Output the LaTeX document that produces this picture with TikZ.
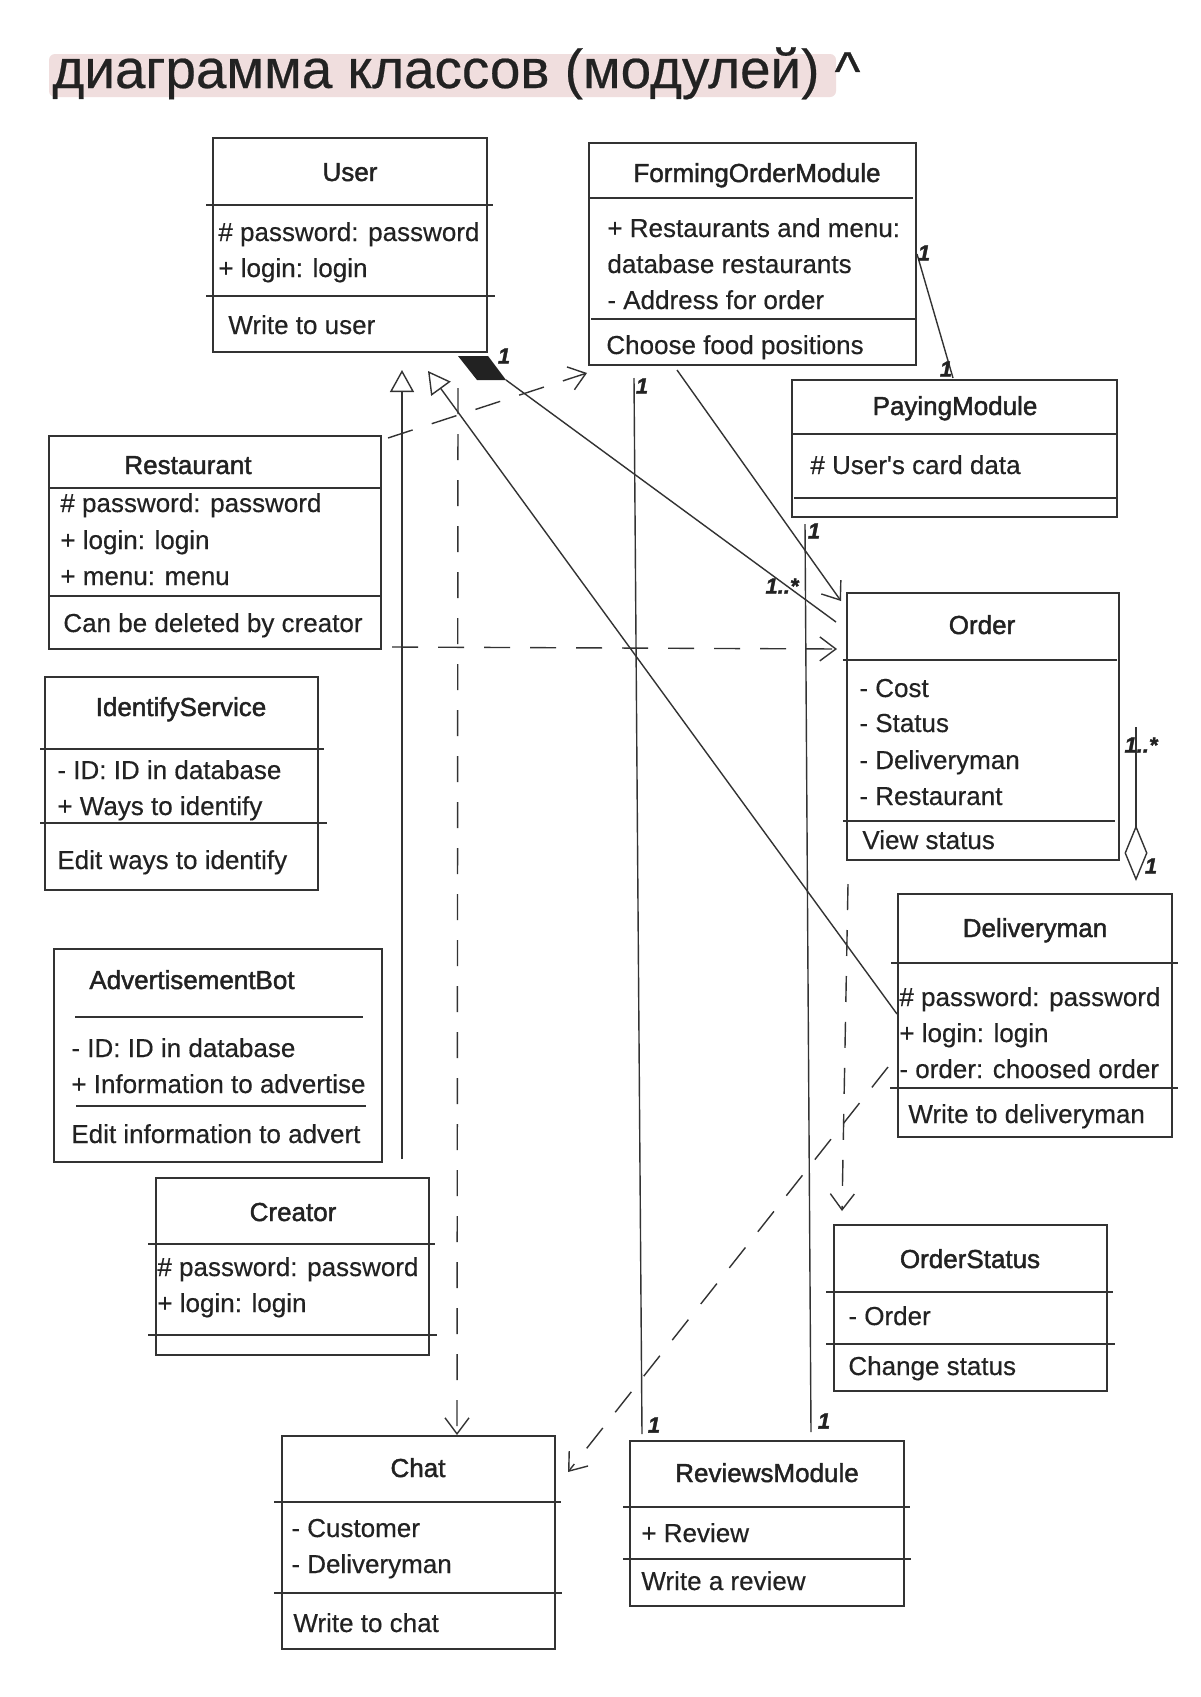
\documentclass[tikz,border=0pt]{standalone}
\usepackage{fontspec}
\setmainfont{Liberation Sans}[Ligatures=TeXOff, FakeBold=0.4]
\newfontfamily\clsfont[FakeBold=1.6]{Liberation Sans}
\newfontfamily\handfont[FakeBold=1.5]{Liberation Sans Bold Italic}
\usetikzlibrary{arrows.meta,calc,fit}
\definecolor{ink}{HTML}{333333}
\definecolor{txt}{HTML}{222222}
\definecolor{hl}{HTML}{F0DEDE}
\tikzset{
  box/.style={draw=ink, line width=1pt, inner sep=0pt},
  sep/.style={draw=ink, line width=1pt},
  ttl/.style={anchor=base, font=\clsfont\fontsize{13}{15}\selectfont, text=txt, inner sep=0pt},
  attr/.style={anchor=base west, font=\fontsize{13}{15}\selectfont, text=txt, inner sep=0pt},
  conn/.style={draw=ink, line width=0.7pt},
  dsh/.style={conn, dash pattern=on 13pt off 10pt},
  gen/.style={conn, -{Triangle[open,length=11pt,width=12pt]}},
  opn/.style={-{Straight Barb[length=8pt,width=12pt]}},
  agg/.style={conn, -{Diamond[open,length=28pt,width=11.5pt]}},
  mult/.style={font=\handfont\fontsize{11}{12}\selectfont, text=txt, inner sep=0pt},
}
\begin{document}
\begin{tikzpicture}[x=0.5pt,y=-0.5pt]
\useasboundingbox (0,0) rectangle (1200,1697);
\fill[white] (0,0) rectangle (1200,1697);

% heading with marker highlight
\fill[hl, rounded corners=3pt] (49,54) rectangle (836,97);
\node[anchor=base west, inner sep=0pt, text=txt, font=\fontsize{27.4}{30}\selectfont] (heading) at (52,88) {диаграмма классов (модулей) \raisebox{-1pt}{\^{}}};

% ---------- class boxes ----------
% User
\node[box, fit={(213,138) (487,352)}] (user) {};
\draw[sep] (206,205) -- (493,205);
\draw[sep] (206,296) -- (495,296);
\node[ttl] (user-t) at (350,181) {User};
\node[attr] (user-a1) at (218,241) {\# password: password};
\node[attr] (user-a2) at (218,277) {+ login: login};
\node[attr] (user-m1) at (228,334) {Write to user};

% FormingOrderModule
\node[box, fit={(589,143) (916,365)}] (fom) {};
\draw[sep] (589,198) -- (913,198);
\draw[sep] (591,319) -- (916,319);
\node[ttl] (fom-t) at (757,182) {FormingOrderModule};
\node[attr] (fom-a1) at (607,237) {+ Restaurants and menu:};
\node[attr] (fom-a2) at (607,273) {database restaurants};
\node[attr] (fom-a3) at (607,309) {- Address for order};
\node[attr] (fom-m1) at (606,354) {Choose food positions};

% PayingModule
\node[box, fit={(792,380) (1117,517)}] (pay) {};
\draw[sep] (792,434) -- (1117,434);
\draw[sep] (794,498) -- (1117,498);
\node[ttl] (pay-t) at (955,415) {PayingModule};
\node[attr] (pay-a1) at (810,474) {\# User's card data};

% Restaurant
\node[box, fit={(49,436) (381,649)}] (rest) {};
\draw[sep] (49,488) -- (381,488);
\draw[sep] (49,596) -- (381,596);
\node[ttl] (rest-t) at (188,474) {Restaurant};
\node[attr] (rest-a1) at (60,512) {\# password: password};
\node[attr] (rest-a2) at (60,549) {+ login: login};
\node[attr] (rest-a3) at (60,585) {+ menu: menu};
\node[attr] (rest-m1) at (63,632) {Can be deleted by creator};

% Order
\node[box, fit={(847,593) (1119,860)}] (order) {};
\draw[sep] (843,660) -- (1117,660);
\draw[sep] (843,821) -- (1115,821);
\node[ttl] (order-t) at (982,634) {Order};
\node[attr] (order-a1) at (859,697) {- Cost};
\node[attr] (order-a2) at (859,732) {- Status};
\node[attr] (order-a3) at (859,769) {- Deliveryman};
\node[attr] (order-a4) at (859,805) {- Restaurant};
\node[attr] (order-m1) at (862,849) {View status};

% IdentifyService
\node[box, fit={(45,677) (318,890)}] (ident) {};
\draw[sep] (40,749) -- (324,749);
\draw[sep] (40,823) -- (327,823);
\node[ttl] (ident-t) at (181,716) {IdentifyService};
\node[attr] (ident-a1) at (57,779) {- ID: ID in database};
\node[attr] (ident-a2) at (57,815) {+ Ways to identify};
\node[attr] (ident-m1) at (57,869) {Edit ways to identify};

% Deliveryman
\node[box, fit={(898,894) (1172,1137)}] (deliv) {};
\draw[sep] (891,963) -- (1178,963);
\draw[sep] (890,1088) -- (1178,1088);
\node[ttl] (deliv-t) at (1035,937) {Deliveryman};
\node[attr] (deliv-a1) at (899,1006) {\# password: password};
\node[attr] (deliv-a2) at (899,1042) {+ login: login};
\node[attr] (deliv-a3) at (899,1078) {- order: choosed order};
\node[attr] (deliv-m1) at (908,1123) {Write to deliveryman};

% AdvertisementBot
\node[box, fit={(54,949) (382,1162)}] (adv) {};
\draw[sep] (75,1017) -- (363,1017);
\draw[sep] (76,1106) -- (366,1106);
\node[ttl] (adv-t) at (192,989) {AdvertisementBot};
\node[attr] (adv-a1) at (71,1057) {- ID: ID in database};
\node[attr] (adv-a2) at (71,1093) {+ Information to advertise};
\node[attr] (adv-m1) at (71,1143) {Edit information to advert};

% Creator
\node[box, fit={(156,1178) (429,1355)}] (creator) {};
\draw[sep] (148,1244) -- (435,1244);
\draw[sep] (148,1335) -- (437,1335);
\node[ttl] (creator-t) at (293,1221) {Creator};
\node[attr] (creator-a1) at (157,1276) {\# password: password};
\node[attr] (creator-a2) at (157,1312) {+ login: login};

% OrderStatus
\node[box, fit={(834,1225) (1107,1391)}] (ostat) {};
\draw[sep] (826,1292) -- (1113,1292);
\draw[sep] (826,1344) -- (1115,1344);
\node[ttl] (ostat-t) at (970,1268) {OrderStatus};
\node[attr] (ostat-a1) at (848,1325) {- Order};
\node[attr] (ostat-m1) at (848,1375) {Change status};

% Chat
\node[box, fit={(282,1436) (555,1649)}] (chat) {};
\draw[sep] (274,1502) -- (561,1502);
\draw[sep] (274,1593) -- (562,1593);
\node[ttl] (chat-t) at (418,1477) {Chat};
\node[attr] (chat-a1) at (291,1537) {- Customer};
\node[attr] (chat-a2) at (291,1573) {- Deliveryman};
\node[attr] (chat-m1) at (293,1632) {Write to chat};

% ReviewsModule
\node[box, fit={(630,1441) (904,1606)}] (rev) {};
\draw[sep] (623,1507) -- (910,1507);
\draw[sep] (623,1559) -- (911,1559);
\node[ttl] (rev-t) at (767,1482) {ReviewsModule};
\node[attr] (rev-a1) at (641,1542) {+ Review};
\node[attr] (rev-m1) at (641,1590) {Write a review};

% ---------- relations ----------
% User <filled diamond> -- Order
\fill[txt] ($(user.south east)+(-30,3)$) -- ($(user.south east)+(0,3)$)
  -- ($(user.south east)+(18,27)$) -- ($(user.south east)+(-11,27)$) -- cycle;
\draw[conn] ($(user.south east)+(18,27)$) -- ($(order.north west)+(-10,30)$);
\node[mult] (m-user) at (504,356) {1};
\node[mult] (m-order1) at (782,586) {1..*};

% Creator and Deliveryman generalise User
\draw[gen] ($(creator.north west)+(247,-18)$) -- ($(user.south west)+(190,17)$);
\draw[gen] ($(deliv.north west)+(0,121)$) -- ($(user.south west)+(216,18)$);

% dependencies
\draw[dsh, opn] ($(rest.north east)+(6,3)$) -- ($(fom.south west)+(-1,7)$);
\draw[dsh, opn] ($(rest.south east)+(10,-3)$) -- ($(order.north west)+(-9,57)$);
\draw[dsh, opn] ($(user.south west)+(246,35)$) -- ($(chat.north west)+(176,0)$);
\draw[dsh, opn] ($(order.south west)+(2,23)$) -- ($(ostat.north west)+(9,-13)$);
\draw[dsh, opn] ($(deliv.north west)+(-9,174)$) -- ($(chat.north east)+(12,37)$);

% FormingOrderModule -> Order
\draw[conn, opn] ($(fom.south west)+(89,4)$) -- ($(order.north west)+(-5,9)$);

% FormingOrderModule -- PayingModule
\draw[conn] ($(fom.north east)+(0,112)$) -- ($(pay.north west)+(162,-1)$);
\node[mult] (m-fom1) at (924,253) {1};
\node[mult] (m-pay1) at (946,369) {1};

% FormingOrderModule -- ReviewsModule
\draw[conn] ($(fom.south west)+(46,12)$) -- ($(rev.north west)+(13,-6)$);
\node[mult] (m-fom2) at (642,386) {1};
\node[mult] (m-rev1) at (654,1425) {1};

% PayingModule -- ReviewsModule
\draw[conn] ($(pay.south west)+(14,6)$) -- ($(rev.north west)+(182,-8)$);
\node[mult] (m-pay2) at (814,531) {1};
\node[mult] (m-rev2) at (824,1421) {1};

% Deliveryman <>-- Order
\draw[agg] ($(order.north east)+(16,135)$) -- ($(deliv.north east)+(-37,-12)$);
\node[mult] (m-order2) at (1141,745) {1..*};
\node[mult] (m-deliv) at (1151,866) {1};

\end{tikzpicture}
\end{document}
